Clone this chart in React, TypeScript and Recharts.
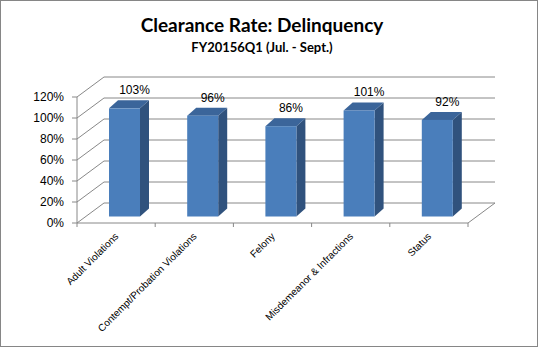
import { ReactElement } from "react";
import { BarChart, Bar, XAxis, YAxis, CartesianGrid, LabelList } from "recharts";

const CATEGORIES = [
  "Adult Violations",
  "Contempt/Probation Violations",
  "Felony",
  "Misdemeanor & Infractions",
  "Status",
];
const CLEARANCE_RATE = [103, 96, 86, 101, 92];
const Y_TICKS = [0, 20, 40, 60, 80, 100, 120];

const TITLE = "Clearance Rate: Delinquency";
const SUBTITLE = "FY20156Q1 (Jul. - Sept.)";

const data = CATEGORIES.map((name, i) => ({ name, value: CLEARANCE_RATE[i] }));

// layout of the front plane
const W = 538;
const H = 347;
const X_AXIS_H = 30;
const PLOT_BOTTOM = 223;
const MARGIN = { top: 97, right: 70, bottom: H - PLOT_BOTTOM - X_AXIS_H, left: 0 };
const Y_AXIS_W = 77;
const BAND = (W - MARGIN.right - Y_AXIS_W) / CATEGORIES.length;

// 3d offsets
const WALL_DX = 27;
const WALL_DY = -20;
const BAR_DX = 8;
const BAR_DY = -6.5;
const DEPTH_DX = 9;
const DEPTH_DY = -8;

const GRID = "#888888";
const FONT = "'Liberation Sans', Arial, sans-serif";

function GridLine(props: any): ReactElement {
  const { x1, y1, x2, y2 } = props;
  const isFloor = Math.abs(y1 - PLOT_BOTTOM) < 1;
  return (
    <g key={props.key}>
      <polyline
        points={`${x1},${y1} ${x1 + WALL_DX},${y1 + WALL_DY} ${x2 + WALL_DX},${y2 + WALL_DY}`}
        fill="none"
        stroke={GRID}
        strokeWidth={1}
      />
      {isFloor && (
        <line x1={x2} y1={y2} x2={x2 + WALL_DX} y2={y2 + WALL_DY} stroke={GRID} strokeWidth={1} />
      )}
    </g>
  );
}

function Bar3D(props: any): ReactElement {
  const { x, y, width, height } = props;
  const fx = x + BAR_DX;
  const fy = y + BAR_DY;
  return (
    <g>
      <polygon
        points={`${fx + width},${fy} ${fx + width + DEPTH_DX},${fy + DEPTH_DY} ${fx + width + DEPTH_DX},${fy + height + DEPTH_DY} ${fx + width},${fy + height}`}
        fill="#30527D"
      />
      <polygon
        points={`${fx},${fy} ${fx + DEPTH_DX},${fy + DEPTH_DY} ${fx + width + DEPTH_DX},${fy + DEPTH_DY} ${fx + width},${fy}`}
        fill="#3B659A"
      />
      <rect x={fx} y={fy} width={width} height={height} fill="#4A7EBB" />
    </g>
  );
}

function ValueLabel(props: any): ReactElement {
  const { x, y, width, value } = props;
  return (
    <text
      x={x + width / 2 + BAR_DX + 10}
      y={y + BAR_DY - 14}
      textAnchor="middle"
      fontSize={12}
      fontFamily={FONT}
      fill="#000"
    >
      {value}%
    </text>
  );
}

function CategoryTick(props: any): ReactElement {
  const { x, payload, index } = props;
  const half = BAND / 2;
  const tx = x + 3;
  const ty = PLOT_BOTTOM + 14;
  return (
    <g>
      <line x1={x - half} x2={x - half} y1={PLOT_BOTTOM} y2={PLOT_BOTTOM + 4} stroke={GRID} />
      {index === CATEGORIES.length - 1 && (
        <line x1={x + half} x2={x + half} y1={PLOT_BOTTOM} y2={PLOT_BOTTOM + 4} stroke={GRID} />
      )}
      <text
        x={tx}
        y={ty}
        transform={`rotate(-45 ${tx} ${ty})`}
        textAnchor="end"
        fontSize={10}
        fontFamily={FONT}
        fill="#000"
      >
        {payload.value}
      </text>
    </g>
  );
}

export default function App(): ReactElement {
  return (
    <div style={{ position: "absolute", left: 0, top: 0, width: W, height: H, background: "#fff" }}>
      <BarChart width={W} height={H} data={data} margin={MARGIN}>
        <CartesianGrid vertical={false} horizontal={GridLine as any} />
        <XAxis
          dataKey="name"
          height={X_AXIS_H}
          interval={0}
          axisLine={{ stroke: GRID }}
          tickLine={false}
          tick={CategoryTick as any}
        />
        <YAxis
          width={Y_AXIS_W}
          domain={[0, 120]}
          ticks={Y_TICKS}
          interval={0}
          tickFormatter={(v) => `${v}%`}
          axisLine={{ stroke: GRID }}
          tickLine={{ stroke: GRID }}
          tickSize={5}
          tickMargin={8}
          tick={{ fontSize: 12, fontFamily: FONT, fill: "#000" }}
        />
        <Bar dataKey="value" barSize={31} shape={Bar3D as any} isAnimationActive={false}>
          <LabelList dataKey="value" content={ValueLabel as any} />
        </Bar>
      </BarChart>
      <svg width={W} height={70} style={{ position: "absolute", left: 0, top: 0 }}>
        <text x={262} y={31.5} textAnchor="middle" fontSize={19} fontWeight="bold" fontFamily="Lato, sans-serif">
          {TITLE}
        </text>
        <text x={262} y={51.5} textAnchor="middle" fontSize={13} fontWeight="bold" fontFamily="Lato, sans-serif">
          {SUBTITLE}
        </text>
      </svg>
      <div
        style={{
          position: "absolute",
          left: 0,
          top: 0,
          width: W,
          height: H,
          boxSizing: "border-box",
          border: "1px solid #868686",
          pointerEvents: "none",
        }}
      />
    </div>
  );
}
